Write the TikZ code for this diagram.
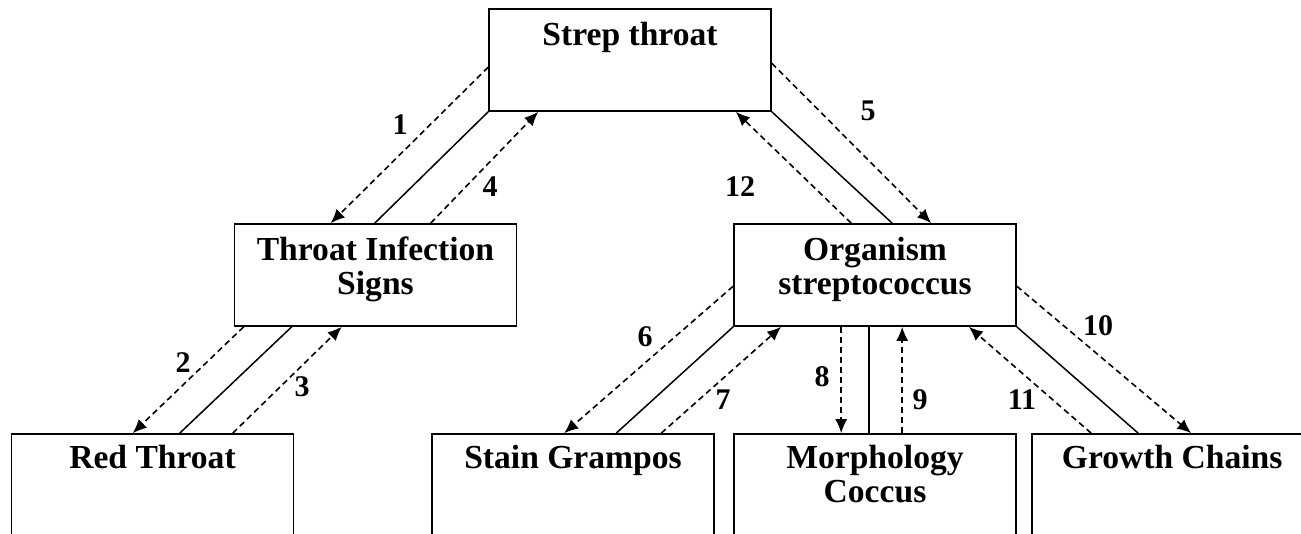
\documentclass[tikz,border=0pt]{standalone}
\usepackage{fontspec}
\setmainfont{Liberation Serif}
\usetikzlibrary{calc,arrows.meta}
\begin{document}
\begin{tikzpicture}[x=0.5pt,y=-0.5pt,
  box/.style={draw,line width=0.8pt,minimum width=141pt,inner sep=0pt},
  ttl/.style={font=\fontsize{16.8pt}{17pt}\selectfont\bfseries,align=center,inner sep=0pt,anchor=base},
  num/.style={font=\fontsize{15pt}{15pt}\selectfont\bfseries,inner sep=0pt},
  solidline/.style={line width=0.75pt},
  dline/.style={line width=0.8pt,dash pattern=on 3pt off 2pt,-{Latex[length=7pt,width=6pt]}}]
\useasboundingbox (0,0) rectangle (1301,534);
% boxes
\node[box,minimum height=51pt] (S) at (630,60) {};
\node[box,minimum height=51pt] (T) at (375.5,275) {};
\node[box,minimum height=51pt] (O) at (875,275) {};
\node[box,minimum height=55pt] (R) at (152.5,489) {};
\node[box,minimum height=55pt] (SG) at (573,489) {};
\node[box,minimum height=55pt] (M) at (875,489) {};
\node[box,minimum height=55pt,minimum width=160pt] (G) at (1192,489) {};
% texts
\node[ttl] (St) at ($(S.north)+(0,37)$) {Strep throat};
\node[ttl] (Tt) at ($(T.north)+(0,71)$) {Throat Infection\\Signs};
\node[ttl] (Ot) at ($(O.north)+(0,71)$) {Organism\\streptococcus};
\node[ttl] (Rt) at ($(R.north)+(0,35)$) {Red Throat};
\node[ttl] (SGt) at ($(SG.north)+(0,35)$) {Stain Grampos};
\node[ttl] (Mt) at ($(M.north)+(0,69)$) {Morphology\\Coccus};
\node[ttl] (Gt) at ($(G.north west)+(141,35)$) {Growth Chains};
% connectors S - T
\draw[dline] ($(S.north west)+(0,59)$) -- ($(T.north west)+(97,0)$);
\draw[solidline] (S.south west) -- ($(T.north west)+(141,0)$);
\draw[dline] ($(T.north west)+(197,0)$) -- ($(S.south west)+(50,0)$);
% T - R
\draw[dline] ($(T.south west)+(10,0)$) -- ($(R.north west)+(122,0)$);
\draw[solidline] ($(T.south west)+(58,0)$) -- ($(R.north west)+(169,0)$);
\draw[dline] ($(R.north west)+(222,0)$) -- ($(T.south west)+(108,0)$);
% S - O
\draw[dline] ($(O.north west)+(118,0)$) -- ($(S.south east)+(-36,0)$);
\draw[solidline] (S.south east) -- ($(O.north west)+(159,0)$);
\draw[dline] ($(S.north east)+(0,55)$) -- ($(O.north west)+(198,0)$);
% O - SG
\draw[dline] ($(O.north west)+(0,63)$) -- ($(SG.north west)+(133,0)$);
\draw[solidline] (O.south west) -- ($(SG.north west)+(185,0)$);
\draw[dline] ($(SG.north west)+(230,0)$) -- ($(O.south west)+(48,0)$);
% O - M
\draw[dline] ($(O.south west)+(108,0)$) -- ($(M.north west)+(108,0)$);
\draw[solidline] ($(O.south west)+(136,0)$) -- ($(M.north west)+(136,0)$);
\draw[dline] ($(M.north west)+(169,0)$) -- ($(O.south west)+(169,0)$);
% O - G
\draw[dline] ($(O.north east)+(0,63)$) -- ($(G.north west)+(160,0)$);
\draw[solidline] (O.south east) -- ($(G.north west)+(107,0)$);
\draw[dline] ($(G.north west)+(60,0)$) -- ($(O.south east)+(-48,0)$);
% numbers
\node[num] (n1) at (400,125) {1};
\node[num] (n2) at (183,363) {2};
\node[num] (n3) at (302,387) {3};
\node[num] (n4) at (490,187) {4};
\node[num] (n5) at (868,111) {5};
\node[num] (n6) at (645,337) {6};
\node[num] (n7) at (723,400) {7};
\node[num] (n8) at (822,377) {8};
\node[num] (n9) at (920,400) {9};
\node[num] (n10) at (1098,326) {10};
\node[num] (n11) at (1022,400) {11};
\node[num] (n12) at (740,187) {12};
\end{tikzpicture}
\end{document}
